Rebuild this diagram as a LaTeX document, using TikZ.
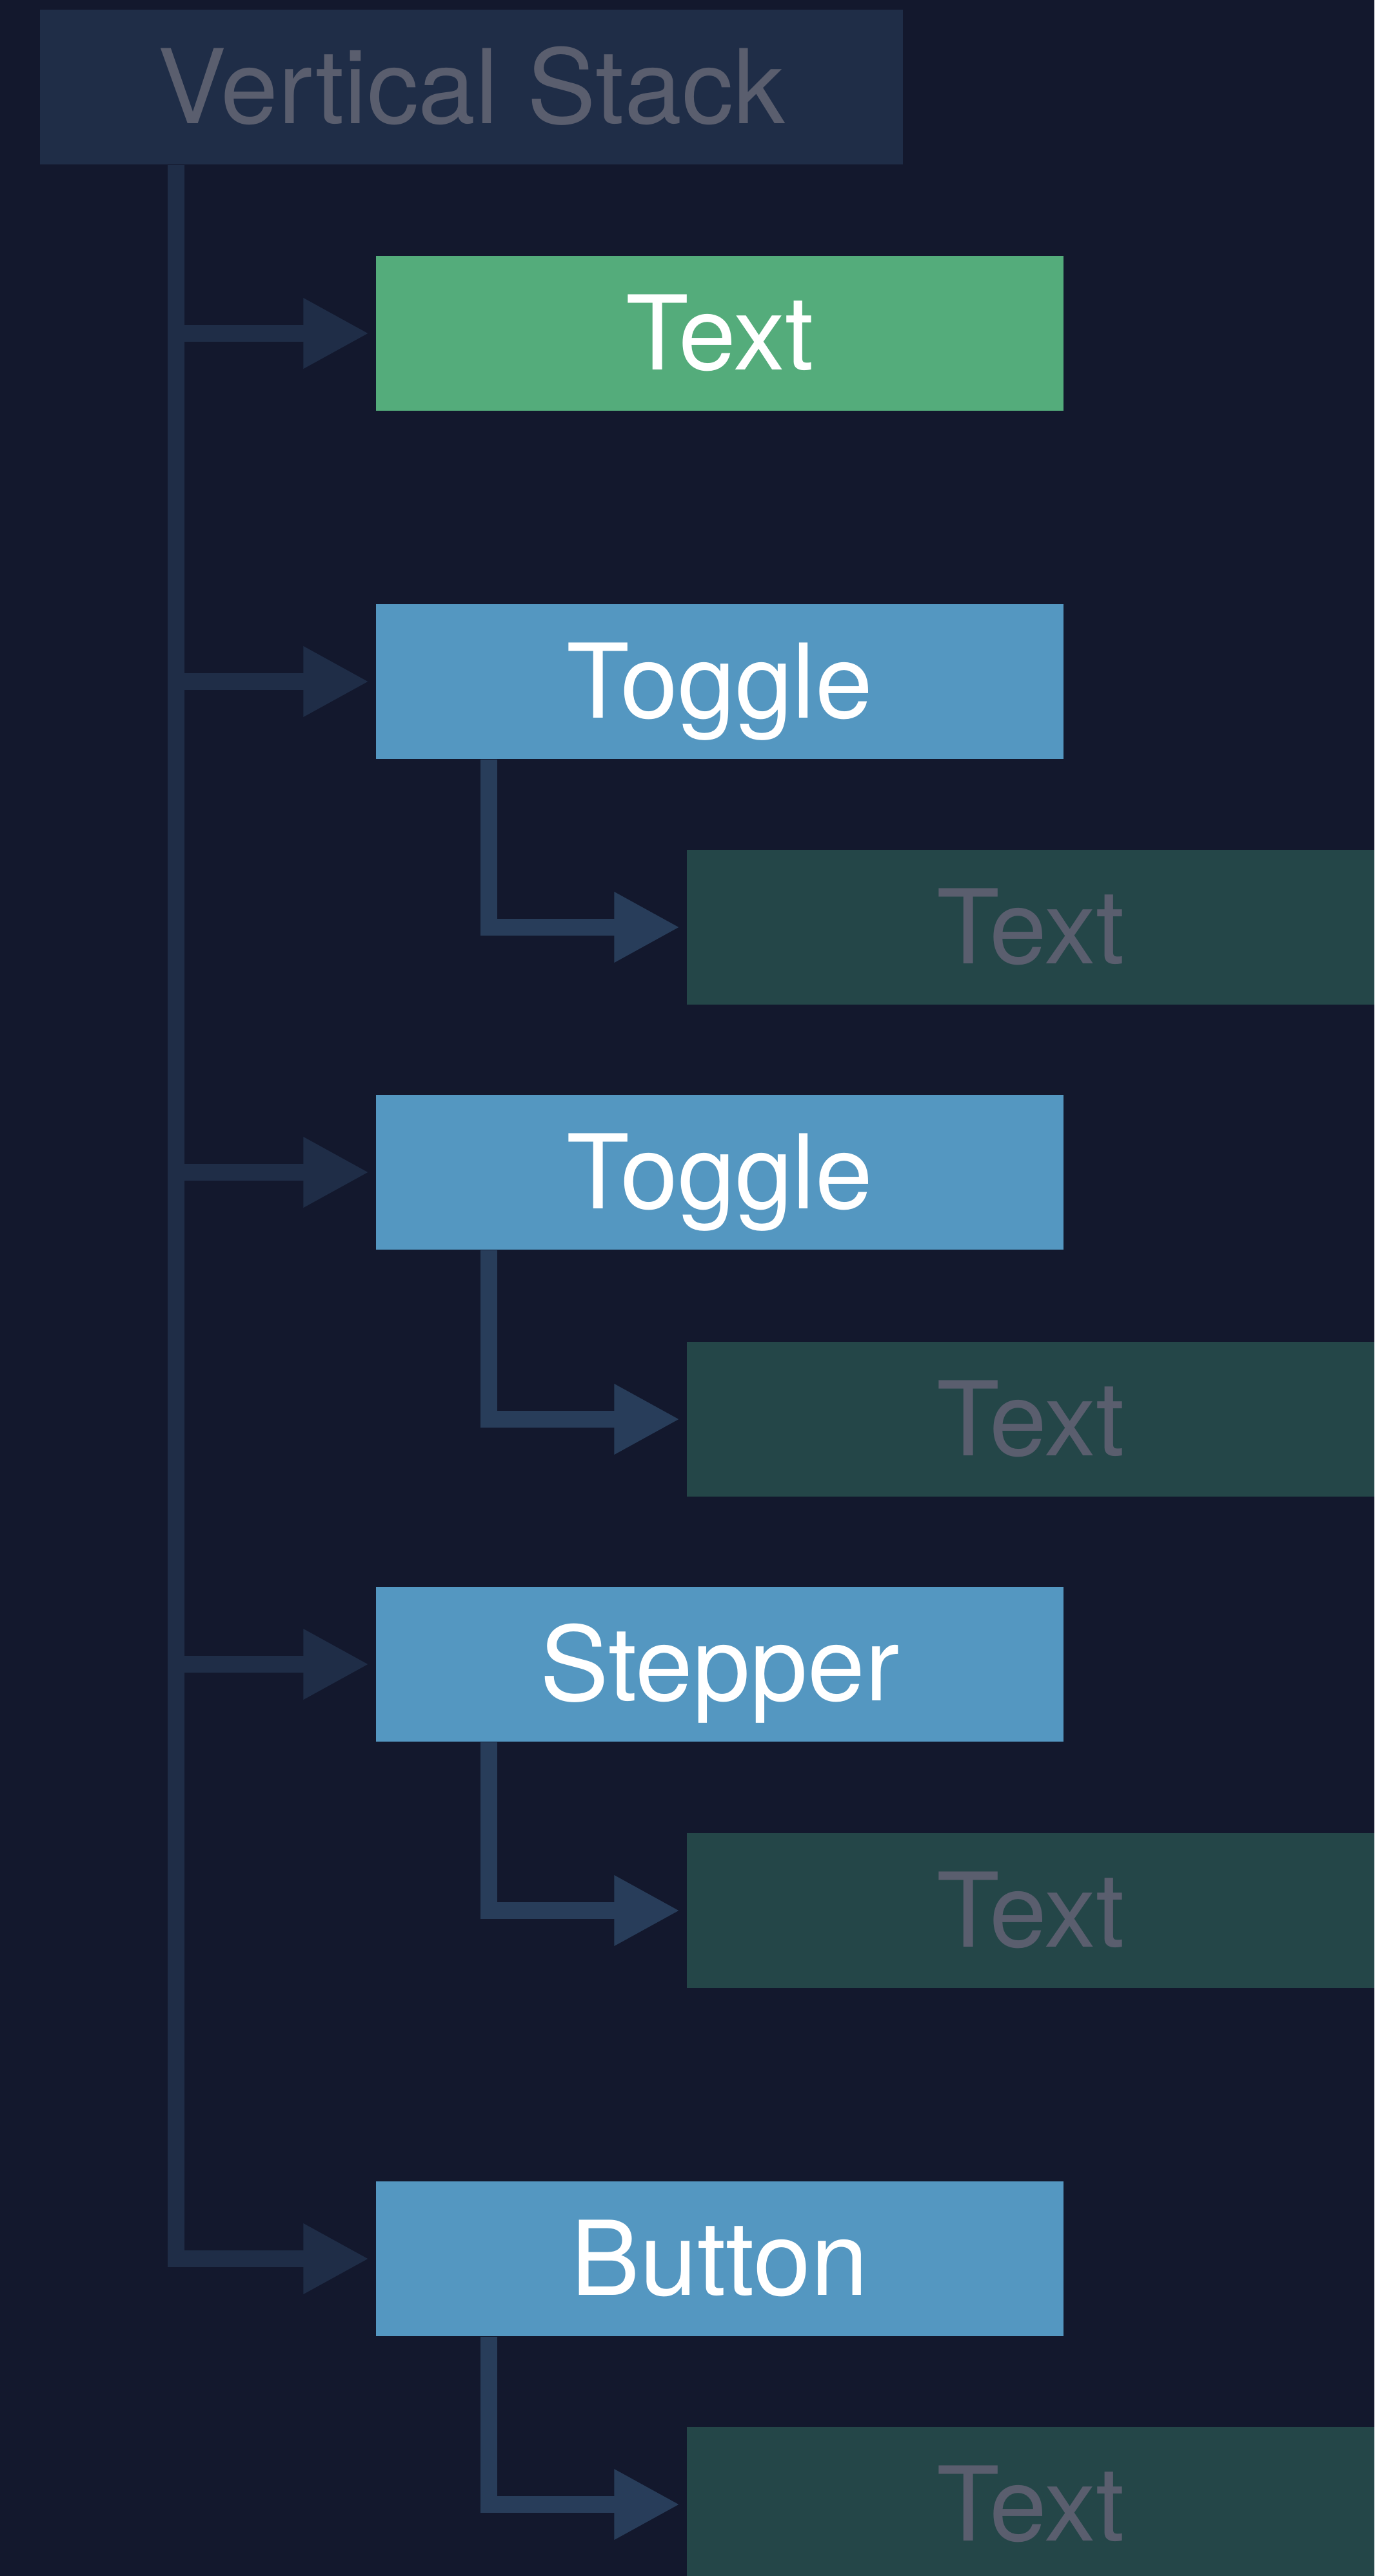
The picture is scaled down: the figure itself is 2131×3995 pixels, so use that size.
\documentclass[tikz,border=0pt]{standalone}
\usepackage{fontspec}
\setmainfont{TeX Gyre Heros}
\usetikzlibrary{arrows.meta}

\definecolor{bgnavy}{HTML}{13182D}
\definecolor{stackfill}{HTML}{1F2D47}
\definecolor{dimtext}{HTML}{5A5E6E}
\definecolor{viewgreen}{HTML}{54AC7B}
\definecolor{viewblue}{HTML}{5497C1}
\definecolor{labelteal}{HTML}{244648}
\definecolor{trunkcol}{HTML}{1F2D47}
\definecolor{branchcol}{HTML}{283D5A}

\tikzset{
  viewbox/.style={minimum width=106.6mm, minimum height=24mm, inner sep=0pt,
    text height=32.4pt, text depth=0pt, font=\fontsize{45.5}{52}\selectfont},
  stackbox/.style={viewbox, minimum width=133.8mm, fill=stackfill, text=dimtext},
  textbox/.style={viewbox, fill=viewgreen, text=white},
  ctrlbox/.style={viewbox, fill=viewblue, text=white},
  labelbox/.style={viewbox, fill=labelteal, text=dimtext},
  trunkarrow/.style={draw=trunkcol, line width=2.6mm,
    -{Triangle[length=10.2mm,width=10.2mm]}, shorten >=1mm},
  brancharrow/.style={trunkarrow, draw=branchcol}
}

\begin{document}
\begin{tikzpicture}[x=0.1mm,y=-0.1mm]
\fill[bgnavy] (0,0) rectangle (2131,3995);
\useasboundingbox (0,0) rectangle (2131,3995);

% stack and its children
\node[stackbox] (vstack) at (731,135) {Vertical Stack};
\node[textbox] (txt)  at (1116,517)  {Text};
\node[ctrlbox] (tog1) at (1116,1057) {Toggle};
\node[ctrlbox] (tog2) at (1116,1818) {Toggle};
\node[ctrlbox] (step) at (1116,2581) {Stepper};
\node[ctrlbox] (btn)  at (1116,3503) {Button};

% labels inside the controls
\node[labelbox] (lbl1) at (1598,1438) {Text};
\node[labelbox] (lbl2) at (1598,2201) {Text};
\node[labelbox] (lbl3) at (1598,2963) {Text};
\node[labelbox] (lbl4) at (1598,3884) {Text};

% connectors
\coordinate (trunk) at ([xshift=-45.8mm]vstack.south);
\foreach \n in {txt,tog1,tog2,step,btn}
  \draw[trunkarrow] (trunk) |- (\n.west);
\foreach \p/\c in {tog1/lbl1,tog2/lbl2,step/lbl3,btn/lbl4}
  \draw[brancharrow] ([xshift=-35.8mm]\p.south) |- (\c.west);
\end{tikzpicture}
\end{document}
